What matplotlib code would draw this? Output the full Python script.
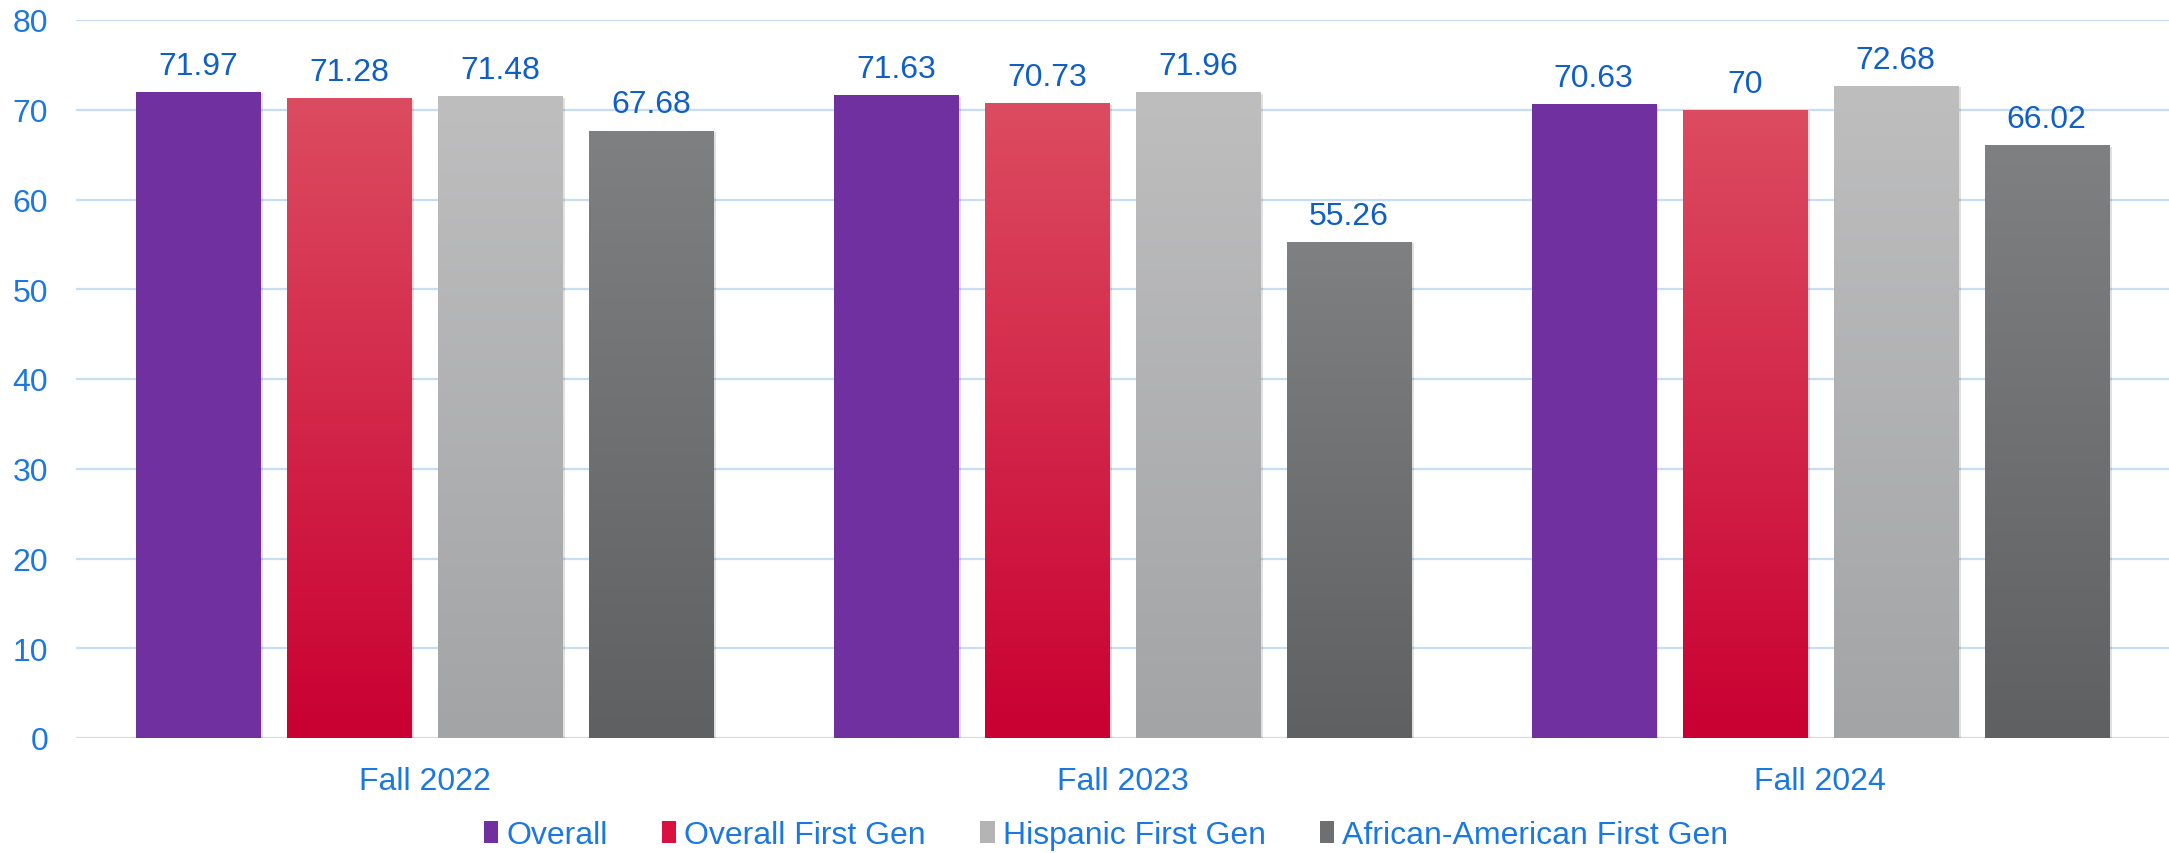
import numpy as np
import matplotlib
matplotlib.use('Agg')
import matplotlib.pyplot as plt
import matplotlib.patheffects as pe
from matplotlib.colors import LinearSegmentedColormap
from matplotlib.patches import Patch

plt.rcParams['font.family'] = ['Liberation Sans', 'DejaVu Sans']

terms = ['Fall 2022', 'Fall 2023', 'Fall 2024']
series = ['Overall', 'Overall First Gen', 'Hispanic First Gen', 'African-American First Gen']
overall = [71.97, 71.63, 70.63]
overall_fg = [71.28, 70.73, 70]
hispanic_fg = [71.48, 71.96, 72.68]
african_fg = [67.68, 55.26, 66.02]
yticks = [0, 10, 20, 30, 40, 50, 60, 70, 80]

values = [overall, overall_fg, hispanic_fg, african_fg]
# (top colour, bottom colour) for each series
grads = [('#7030A0', '#7030A0'),
         ('#DC4C60', '#C90032'),
         ('#BEBEBF', '#A3A4A6'),
         ('#7F8082', '#5F6062')]
mid_cols = ['#7030A0', '#D91040', '#B4B4B5', '#6E6F71']

tick_col = '#1B78E2'
lab_col = '#0F5FC6'
grid_col = '#C6DDF4'

fig = plt.figure(figsize=(21.69, 8.54), dpi=100)
ax = fig.add_axes([76/2169, 1 - 739/854, (2169-76)/2169, (739-21)/854])

x = np.arange(len(terms))
step = 0.2165
width = 0.178
grad = np.linspace(0, 1, 256).reshape(-1, 1)

for i, vals in enumerate(values):
    xs = x + (i - 1.5) * step
    bars = ax.bar(xs, vals, width, color=mid_cols[i], zorder=2, label=series[i],
                  path_effects=[pe.SimplePatchShadow(offset=(2, -1), shadow_rgbFace='k', alpha=0.12),
                                pe.Normal()])
    cmap = LinearSegmentedColormap.from_list('g%d' % i, [grads[i][1], grads[i][0]])
    for b, xx, v in zip(bars, xs, vals):
        im = ax.imshow(grad, extent=[xx - width/2, xx + width/2, 0, v], origin='lower',
                       cmap=cmap, aspect='auto', zorder=3)
        im.set_clip_path(b)
        ax.annotate('{:g}'.format(v), (xx, v), xytext=(0, 8), textcoords='offset points',
                    ha='center', va='bottom', fontsize=23, color=lab_col)

ax.set_xlim(-0.5, 2.5)
ax.set_ylim(0, 80)
ax.set_yticks(yticks)
ax.set_xticks(x)
ax.set_xticklabels(terms)
ax.tick_params(axis='y', length=0, pad=20, labelsize=23, labelcolor=tick_col)
ax.tick_params(axis='x', length=0, pad=20, labelsize=23, labelcolor=tick_col)
ax.grid(axis='y', color=grid_col, linewidth=1.6, zorder=0)
ax.set_axisbelow(True)
for s in ax.spines.values():
    s.set_visible(False)

handles = [Patch(facecolor=c) for c in mid_cols]
leg = fig.legend(handles, series, loc='center', bbox_to_anchor=(0.51, 0.021), ncol=4,
                 frameon=False, fontsize=23, handlelength=0.45, handleheight=0.7,
                 handletextpad=0.25, columnspacing=1.7)
for t in leg.get_texts():
    t.set_color(tick_col)

fig.savefig('out.png', dpi=100)
